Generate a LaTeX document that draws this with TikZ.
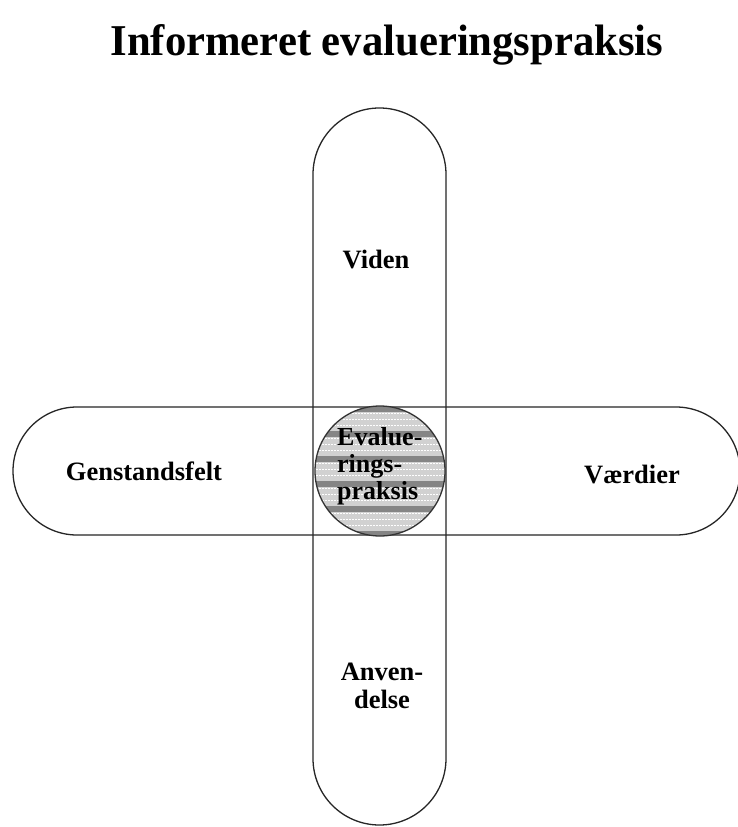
\documentclass[tikz,border=0pt]{standalone}
\usepackage{fontspec}
\setmainfont{Liberation Serif}
\begin{document}
\begin{tikzpicture}[x=1pt,y=-1pt,
  pill/.style={draw=black!85,line width=1.3pt},
  lbl/.style={font=\bfseries\fontsize{26.5}{28}\selectfont,align=center,anchor=base,inner sep=0pt},
  midlbl/.style={font=\bfseries\fontsize{26}{27}\selectfont,align=left,anchor=base west,inner sep=0pt}]
\useasboundingbox[fill=white] (0,0) rectangle (738,827);
% horizontal pill
\draw[pill,rounded corners=64pt] (13,407) rectangle (740,535);
% vertical pill
\draw[pill,rounded corners=66.5pt] (313,108) rectangle (446,825);
% center circle
\begin{scope}
\clip (380,471) circle[radius=65];
\fill[black!18] (310,400) rectangle (450,540);
\foreach \yy in {406,431,456,481,506,531}{
  \fill[black!48] (310,\yy) rectangle (450,\yy+6);
}
\foreach \yy in {413,419,425,438,444,450,463,469,475,488,494,500,513,519,525}{
  \draw[white,line width=0.7pt,dash pattern=on 2pt off 1pt] (310,\yy) -- (450,\yy);
}
\end{scope}
\draw[black!80,line width=1.3pt] (380,471) circle[radius=65];
\node[midlbl] (eval) at (337,499) {Evalue-\\rings-\\praksis};
\node[lbl] (viden) at (376,268) {Viden};
\node[lbl] (gen) at (144,480) {Genstandsfelt};
\node[lbl] (vaer) at (632,483) {Værdier};
\node[lbl] (anv) at (382,708) {Anven-\\delse};
\node[font=\bfseries\fontsize{44}{48}\selectfont,anchor=base,inner sep=0pt] (title) at (387,55) {\scalebox{0.97}[1]{Informeret evalueringspraksis}};
\end{tikzpicture}
\end{document}
